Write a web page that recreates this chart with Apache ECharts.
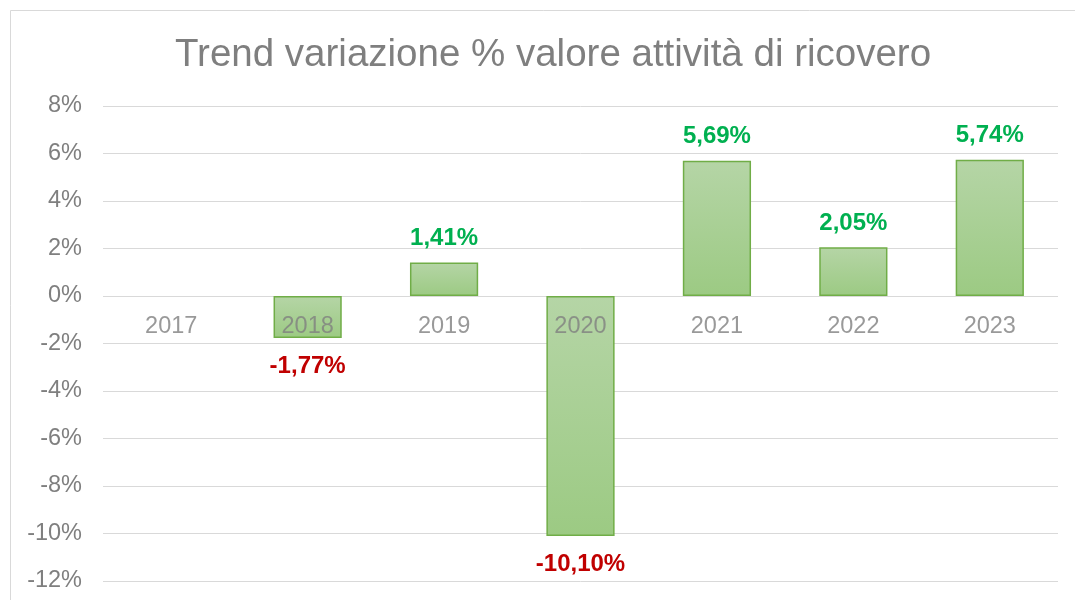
<!DOCTYPE html>
<html>
<head>
<meta charset="utf-8">
<script src="https://cdn.jsdelivr.net/npm/echarts@6/dist/echarts.min.js"></script>
<style>
html,body{margin:0;padding:0;background:#fff;}
#chart{width:1075px;height:600px;}
</style>
</head>
<body>
<div id="chart"></div>
<script>
const titleText = 'Trend variazione % valore attività di ricovero';
const categories = ['2017', '2018', '2019', '2020', '2021', '2022', '2023'];
const values = [null, -1.77, 1.41, -10.10, 5.69, 2.05, 5.74];
const yMin = -12, yMax = 8, yStep = 2;

const chart = echarts.init(document.getElementById('chart'), null, {renderer: 'canvas'});
const fmtPct = v => v.toFixed(2).replace('.', ',') + '%';
const FONT = 'Liberation Sans, Arial, sans-serif';

const barData = values.map(v => {
  if (v === null) return {value: null};
  const neg = v < 0;
  return {
    value: v,
    label: {
      show: true,
      position: neg ? 'bottom' : 'top',
      distance: neg ? 16 : 12,
      color: neg ? '#c00000' : '#00b050',
      fontWeight: 'bold',
      fontSize: 24,
      fontFamily: FONT,
      formatter: p => fmtPct(p.value)
    }
  };
});

// category labels placed on the zero line (Excel style axis crossing at 0)
const catLabelData = categories.map(c => [c, 0]);

chart.setOption({
  animation: false,
  backgroundColor: '#fff',
  graphic: [{
    type: 'rect',
    shape: {x: 10.5, y: 10.5, width: 1100, height: 700},
    style: {fill: 'none', stroke: '#d9d9d9', lineWidth: 1},
    silent: true, z: -1
  }],
  title: {
    text: titleText,
    left: 170,
    top: 31,
    textStyle: {
      color: '#7f7f7f',
      fontSize: 38.5,
      fontWeight: 'normal',
      fontFamily: FONT
    }
  },
  grid: {left: 103, right: 17, top: 106, bottom: 19, containLabel: false, outerBoundsMode: 'none'},
  xAxis: {
    type: 'category',
    data: categories,
    axisLine: {show: false},
    axisTick: {show: false},
    axisLabel: {show: false}
  },
  yAxis: {
    type: 'value',
    min: yMin,
    max: yMax,
    interval: yStep,
    axisLine: {show: false},
    axisTick: {show: false},
    splitLine: {lineStyle: {color: '#d9d9d9', width: 1}},
    axisLabel: {
      color: '#7f7f7f',
      fontSize: 23.5,
      margin: 21,
      fontFamily: FONT,
      formatter: v => v + '%'
    }
  },
  series: [{
    type: 'bar',
    data: barData,
    barWidth: '50%',
    itemStyle: {
      color: new echarts.graphic.LinearGradient(0, 0, 0, 1, [
        {offset: 0, color: '#b5d5a6'},
        {offset: 1, color: '#9cca83'}
      ]),
      borderColor: '#70ad47',
      borderWidth: 1.5
    }
  }, {
    type: 'scatter',
    data: catLabelData,
    symbolSize: 1,
    itemStyle: {color: 'rgba(0,0,0,0)'},
    silent: true,
    z: 20,
    label: {
      show: true,
      position: 'bottom',
      distance: 18,
      color: '#7f7f7f',
      fontSize: 23.5,
      fontFamily: FONT,
      formatter: p => categories[p.dataIndex]
    }
  }]
});
</script>
</body>
</html>
